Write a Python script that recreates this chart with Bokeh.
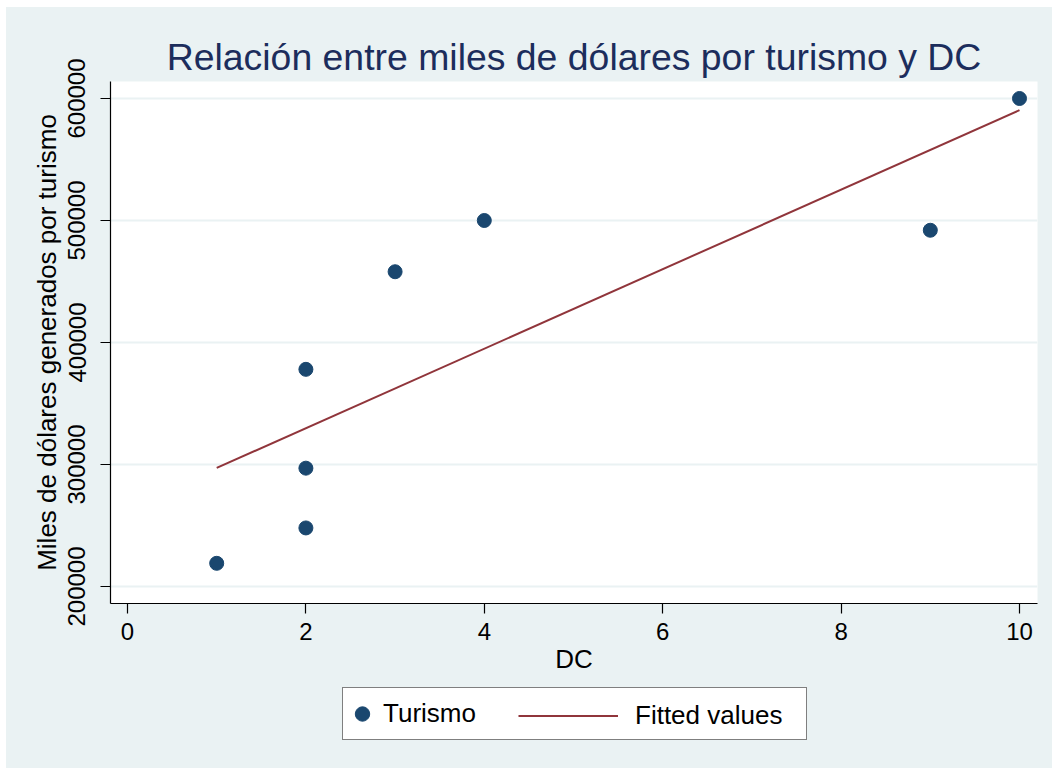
from bokeh.plotting import figure
from bokeh.layouts import column
from bokeh.models import (Range1d, FixedTicker, Legend, LegendItem, BasicTickFormatter)
from bokeh.embed import file_html
from bokeh.resources import INLINE

# ---- data ----
dc = [1, 2, 2, 2, 3, 4, 9, 10]
turismo = [219000, 248000, 297000, 378000, 458000, 500000, 492000, 600000]
fit_dc = [1, 10]
fit_values = [297200, 590400]
x_ticks = [0, 2, 4, 6, 8, 10]
y_ticks = [200000, 300000, 400000, 500000, 600000]

title_text = "Relación entre miles de dólares por turismo y DC"
x_label = "DC"
y_label = "Miles de dólares generados por turismo"
legend_labels = ["Turismo", "Fitted values"]

FONT = "Liberation Sans"
BG = "#EAF2F3"
NAVY = "#1a476f"
MAROON = "#90353b"

OFF_X, OFF_Y = 6, 7          # white page margin around the chart
W = 1046
H_MAIN = 678
H_LEG = 83
FRAME_LEFT = 110 - OFF_X
FRAME_TOP = 81 - OFF_Y
FRAME_RIGHT = 1037 - OFF_X
FRAME_BOTTOM = 603 - OFF_Y

p = figure(width=W, height=H_MAIN, output_backend="svg", toolbar_location=None,
           x_range=Range1d(-0.1906, 10.2018), y_range=Range1d(186066, 613934),
           min_border_left=FRAME_LEFT, min_border_right=W - FRAME_RIGHT,
           min_border_top=FRAME_TOP, min_border_bottom=H_MAIN - FRAME_BOTTOM,
           background_fill_color="white", border_fill_color=BG,
           outline_line_color=None)

p.title.text = title_text
p.title.text_font = FONT
p.title.text_font_size = "37.4px"
p.title.text_font_style = "normal"
p.title.text_color = "#1c2d5c"
p.title.align = "center"
p.title.standoff = 7

for ax in (p.xaxis[0], p.yaxis[0]):
    ax.axis_line_color = "black"
    ax.axis_line_width = 1.2
    ax.major_tick_line_color = "black"
    ax.major_tick_line_width = 1.2
    ax.major_tick_out = 10
    ax.major_tick_in = 0
    ax.minor_tick_line_color = None
    ax.major_label_text_font = FONT
    ax.major_label_text_font_size = "24px"
    ax.major_label_text_color = "black"
    ax.axis_label_text_font = FONT
    ax.axis_label_text_font_size = "26px"
    ax.axis_label_text_font_style = "normal"
    ax.axis_label_text_color = "black"

p.xaxis[0].ticker = FixedTicker(ticks=x_ticks)
p.yaxis[0].ticker = FixedTicker(ticks=y_ticks)
p.yaxis[0].formatter = BasicTickFormatter(use_scientific=False)
p.xaxis[0].axis_label = x_label
p.yaxis[0].axis_label = y_label
p.yaxis[0].major_label_orientation = "vertical"
p.xaxis[0].major_label_standoff = 9
p.yaxis[0].major_label_standoff = 15
p.xaxis[0].axis_label_standoff = 1
p.yaxis[0].axis_label_standoff = 4

p.xgrid.visible = False
p.ygrid[0].ticker = FixedTicker(ticks=y_ticks)
p.ygrid.grid_line_color = BG
p.ygrid.grid_line_width = 2

p.scatter(dc, turismo, size=14, marker="circle", fill_color=NAVY, line_color=NAVY)
p.line(fit_dc, fit_values, line_color=MAROON, line_width=2)

# ---- legend strip below the chart (its frame is aligned with the main frame) ----
q = figure(width=W, height=H_LEG, output_backend="svg", toolbar_location=None,
           x_range=Range1d(-30, -20), y_range=Range1d(-30, -20),
           x_axis_location=None, y_axis_location=None,
           min_border_left=FRAME_LEFT, min_border_right=W - FRAME_RIGHT,
           min_border_top=0, min_border_bottom=0,
           background_fill_color=BG, border_fill_color=BG, outline_line_color=None)
q.xgrid.visible = False
q.ygrid.visible = False

# same series, outside this strip's view: only their legend glyphs show
k1 = q.scatter(dc, turismo, size=14, marker="circle", fill_color=NAVY, line_color=NAVY)
k2 = q.line(fit_dc, fit_values, line_color=MAROON, line_width=2)

leg_bottom = H_LEG - (740 - OFF_Y - H_MAIN)
common = dict(orientation="horizontal", glyph_height=49, label_height=49,
              padding=1, label_text_font=FONT, label_text_font_size="26px",
              label_text_color="black", margin=0)
legA = Legend(items=[LegendItem(label=legend_labels[0], renderers=[k1])],
              location=(342 - 110, leg_bottom), glyph_width=36, label_standoff=3,
              label_width=422,
              border_line_color="black", border_line_width=1.2,
              background_fill_color="white", background_fill_alpha=1.0, **common)
legB = Legend(items=[LegendItem(label=legend_labels[1], renderers=[k2])],
              location=(518 - 110, leg_bottom), glyph_width=100, label_standoff=17,
              border_line_color=None, background_fill_alpha=0, **common)
q.add_layout(legA)
q.add_layout(legB)

layout = column(p, q, spacing=0, styles={"background-color": BG},
                margin=(OFF_Y, 0, 0, OFF_X))
open("out.html", "w").write(file_html(layout, INLINE))
